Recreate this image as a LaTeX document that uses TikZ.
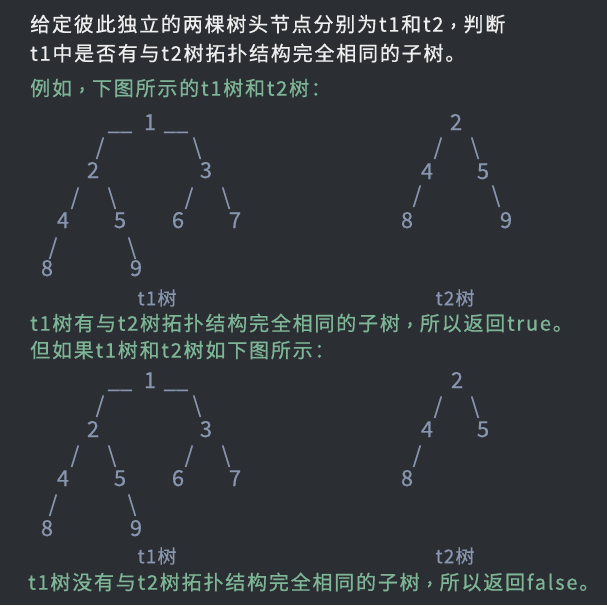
\documentclass[tikz,border=0pt]{standalone}
\usepackage{fontspec}
\setmainfont{Noto Sans CJK SC}
\newfontfamily\txtfont{Noto Sans CJK SC}[LetterSpace=9,FakeBold=0.8]
\newfontfamily\digfont{Noto Sans CJK SC}[FakeBold=0.6]
\newfontfamily\labfont{Noto Sans CJK SC}[LetterSpace=6,FakeBold=0.6]
\definecolor{bgc}{HTML}{2B2E33}
\definecolor{whc}{HTML}{EEEEEE}
\definecolor{grc}{HTML}{7DB596}
\definecolor{trc}{HTML}{8795AE}
\newcommand{\cma}{\makebox[1em][c]{\raisebox{0.3em}{,}}}
\tikzset{
  txt/.style={anchor=west, inner sep=0pt, font=\txtfont\fontsize{20}{24}\selectfont},
  wline/.style={txt, text=whc},
  gline/.style={txt, text=grc},
  dig/.style={anchor=base, inner sep=0pt, text=trc, font=\digfont\fontsize{22}{26}\selectfont},
  lab/.style={anchor=center, inner sep=0pt, text=trc, font=\labfont\fontsize{19}{22}\selectfont},
}
\begin{document}
\begin{tikzpicture}[x=1pt,y=-1pt]
\fill[bgc] (0,0) rectangle (607,605);
\useasboundingbox (0,0) rectangle (607,605);
\node[wline] (l1) at (30,24) {给定彼此独立的两棵树头节点分别为t1和t2\cma 判断};
\node[wline] (l2) at (30,53) {t1中是否有与t2树拓扑结构完全相同的子树。};
\node[gline] (l3) at (30,88) {例如\cma 下图所示的t1树和t2树：};
\node[gline] (l4) at (30,323) {t1树有与t2树拓扑结构完全相同的子树\cma 所以返回true。};
\node[gline] (l5) at (30,350) {但如果t1树和t2树如下图所示：};
\node[gline] (l6) at (28,582) {t1树没有与t2树拓扑结构完全相同的子树\cma 所以返回false。};
% first pair
\begin{scope}
\node[dig] (a1) at (150,130) {1};
\node[dig] (au1) at (120,130) {\_\_};
\node[dig] (au2) at (176,130) {\_\_};
\node[dig] (as12) at (100,155) {/};
\node[dig] (as13) at (197,155) {\textbackslash};
\node[dig] (a2) at (93,178) {2};
\node[dig] (a3) at (206,178) {3};
\node[dig] (as24) at (75,205) {/};
\node[dig] (as25) at (112,205) {\textbackslash};
\node[dig] (as36) at (189,205) {/};
\node[dig] (as37) at (226,205) {\textbackslash};
\node[dig] (a4) at (63,228) {4};
\node[dig] (a5) at (120,228) {5};
\node[dig] (a6) at (178,228) {6};
\node[dig] (a7) at (235,228) {7};
\node[dig] (as48) at (53,255) {/};
\node[dig] (as59) at (132,255) {\textbackslash};
\node[dig] (a8) at (47,276) {8};
\node[dig] (a9) at (136,276) {9};
\node[lab] (alab) at (157,298) {t1树};
\node[dig] (c2) at (456,130) {2};
\node[dig] (cs24) at (438,155) {/};
\node[dig] (cs25) at (475,155) {\textbackslash};
\node[dig] (c4) at (427,179) {4};
\node[dig] (c5) at (483,179) {5};
\node[dig] (cs48) at (417,203) {/};
\node[dig] (cs59) at (496,203) {\textbackslash};
\node[dig] (c8) at (407,228) {8};
\node[dig] (c9) at (506,228) {9};
\node[lab] (clab) at (455,298) {t2树};
\end{scope}
% second pair
\begin{scope}[shift={(0,258)}]
\node[dig] (b1) at (150,130) {1};
\node[dig] (bu1) at (120,130) {\_\_};
\node[dig] (bu2) at (176,130) {\_\_};
\node[dig] (bs12) at (100,155) {/};
\node[dig] (bs13) at (197,155) {\textbackslash};
\node[dig] (b2) at (93,179) {2};
\node[dig] (b3) at (206,179) {3};
\node[dig] (bs24) at (75,205) {/};
\node[dig] (bs25) at (112,205) {\textbackslash};
\node[dig] (bs36) at (189,205) {/};
\node[dig] (bs37) at (226,205) {\textbackslash};
\node[dig] (b4) at (63,228) {4};
\node[dig] (b5) at (120,228) {5};
\node[dig] (b6) at (178,228) {6};
\node[dig] (b7) at (235,228) {7};
\node[dig] (bs48) at (53,254) {/};
\node[dig] (bs59) at (132,254) {\textbackslash};
\node[dig] (b8) at (47,278) {8};
\node[dig] (b9) at (136,278) {9};
\node[lab] (blab) at (157,298) {t1树};
\node[dig] (d2) at (457,130) {2};
\node[dig] (ds24) at (438,156) {/};
\node[dig] (ds25) at (475,156) {\textbackslash};
\node[dig] (d4) at (427,179) {4};
\node[dig] (d5) at (483,179) {5};
\node[dig] (ds48) at (417,205) {/};
\node[dig] (d8) at (407,228) {8};
\node[lab] (dlab) at (455,298) {t2树};
\end{scope}
\end{tikzpicture}
\end{document}
